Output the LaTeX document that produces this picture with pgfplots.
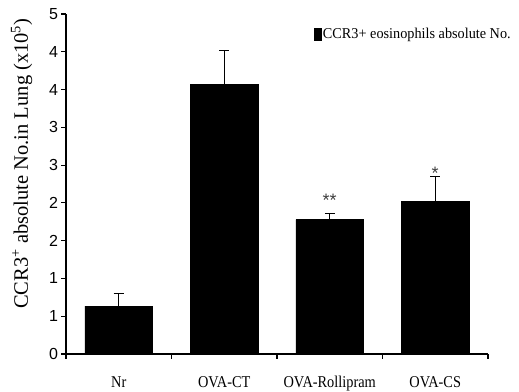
\documentclass[border=0pt]{standalone}
\usepackage{fontspec}
\setmainfont{Liberation Serif}
\newfontfamily\arial{Liberation Sans}
\newfontfamily\condserif[FakeStretch=0.87]{Liberation Serif}
\newfontfamily\legserif[FakeStretch=0.95]{Liberation Serif}
\usepackage{pgfplots}
\pgfplotsset{compat=1.18}
\begin{document}
\begin{tikzpicture}
\useasboundingbox (-66pt,-37pt) rectangle (453pt,354pt);
\begin{axis}[
  at={(0pt,0pt)}, anchor=south west,
  scale only axis, width=422pt, height=340pt,
  ymin=0, ymax=4.5, xmin=-0.5, xmax=3.5,
  clip=false,
  axis lines*=left,
  axis line style={line width=1.2pt,-},
  tick align=outside,
  major tick length=4.5pt,
  tick style={line width=1.2pt, black},
  ybar, bar width=0.64,
  ytick={0,0.5,1,1.5,2,2.5,3,3.5,4,4.5},
  yticklabels={0,1,1,2,2,3,3,4,4,5},
  yticklabel style={font=\arial\fontsize{16}{16}\selectfont},
  /pgf/number format/assume math mode=true,
  xtick={-0.5,0.5,1.5,2.5,3.5},
  xticklabels={},
  extra x ticks={0,1,2,3},
  extra x tick labels={Nr,OVA-CT,OVA-Rollipram,OVA-CS},
  extra x tick style={major tick length=0pt,
     xticklabel style={font=\condserif\fontsize{16.5}{16.5}\selectfont, anchor=base, yshift=-33pt}},
  ylabel={CCR3\textsuperscript{+} absolute No.in Lung (x10\textsuperscript{5})},
  ylabel style={font=\fontsize{20.5}{20.5}\selectfont, at={(axis description cs:-0.105,0.56)}, anchor=center},
  legend style={at={(axis description cs:1.059,0.965)}, anchor=north east, draw=none, fill=none,
     font=\legserif\fontsize{15}{15}\selectfont, inner sep=0pt},
  legend cell align=left,
  legend image code/.code={\fill[black] (-5pt,-6pt) rectangle (2pt,6pt);},
]
\addplot[fill=black, draw=black,
  error bars/.cd, y dir=plus, y explicit,
  error mark options={rotate=90, mark size=5pt, line width=1pt, black},
  error bar style={line width=1pt, black}]
  coordinates {(0,0.635) +- (0,0.168) (1,3.57) +- (0,0.45) (2,1.78) +- (0,0.08) (3,2.02) +- (0,0.33)};
\addlegendentry{CCR3+ eosinophils absolute No.}
\node[font=\arial\fontsize{18}{18}\selectfont, anchor=base, text=black!75] at (axis cs:2,1.95) {**};
\node[font=\arial\fontsize{18}{18}\selectfont, anchor=base, text=black!75] at (axis cs:3,2.31) {*};
\end{axis}
\end{tikzpicture}
\end{document}
